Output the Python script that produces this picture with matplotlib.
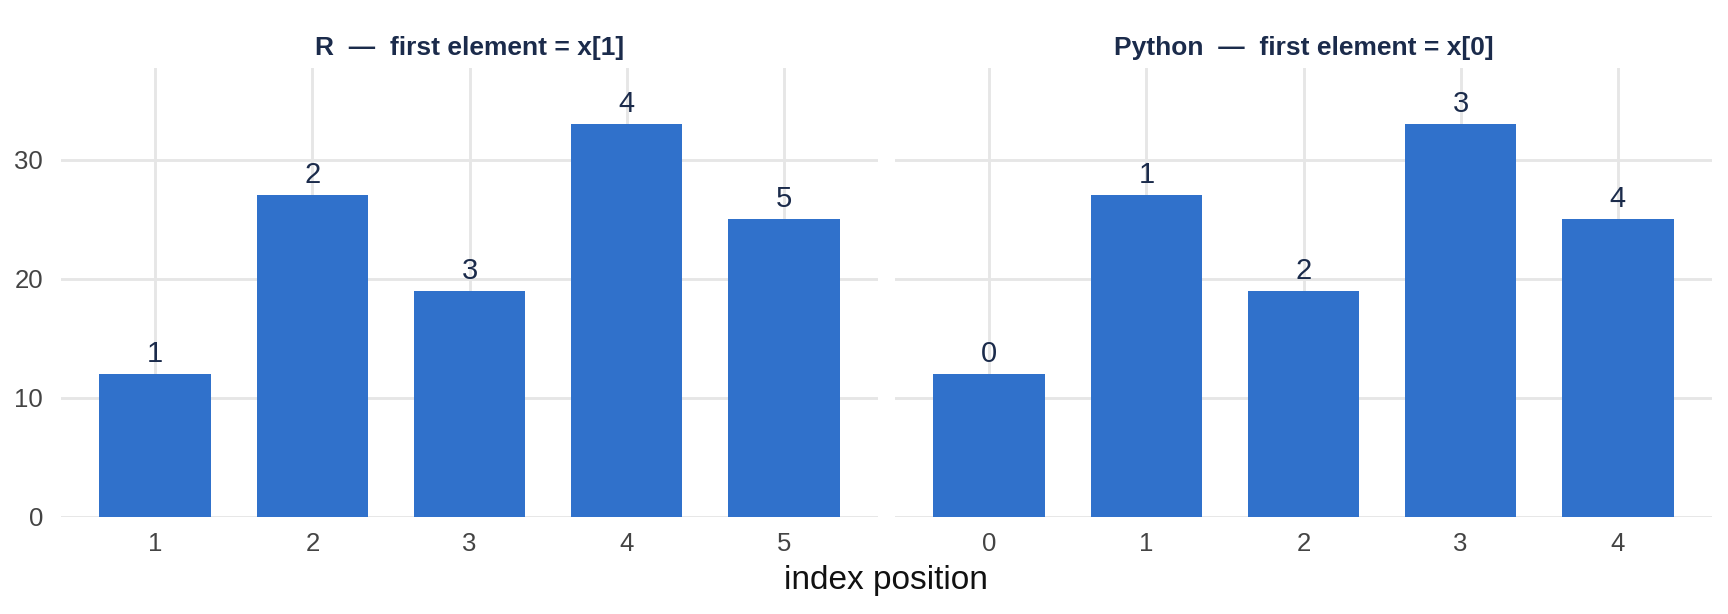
import matplotlib
matplotlib.use("Agg")
import matplotlib.pyplot as plt

plt.rcParams['font.family'] = ['Liberation Sans', 'DejaVu Sans']

values = [12, 27, 19, 33, 25]
r_labels = ["1", "2", "3", "4", "5"]
py_labels = ["0", "1", "2", "3", "4"]
titles = ["R  \u2014  first element = x[1]", "Python  \u2014  first element = x[0]"]

bar_color = "#3071CB"
navy = "#1B2B4B"
grid_color = "#E6E6E6"

W, H = 1728, 614
fig = plt.figure(figsize=(W / 100, H / 100), dpi=100)

panels = [(61, 878), (895, 1712)]
y_top, y_zero = 68, 517

for (x0, x1), labels, title in zip(panels, [r_labels, py_labels], titles):
    ax = fig.add_axes([x0 / W, (H - y_zero) / H, (x1 - x0) / W, (y_zero - y_top) / H])
    pos = list(range(len(values)))
    ax.bar(pos, values, width=0.71, color=bar_color, zorder=2)
    for p, v, lab in zip(pos, values, labels):
        ax.text(p, v + 0.5, lab, ha='center', va='bottom', fontsize=21, color=navy, zorder=3)
    ax.set_xlim(-0.6, len(values) - 0.4)
    ax.set_ylim(0, 37.7)
    ax.set_xticks(pos)
    ax.set_xticklabels(labels)
    ax.set_yticks([0, 10, 20, 30])
    if x0 > 100:
        ax.set_yticklabels([])
    ax.tick_params(length=0, labelsize=18.5, labelcolor="#444444")
    ax.tick_params(axis='x', pad=11)
    ax.tick_params(axis='y', pad=13)
    ax.grid(True, color=grid_color, linewidth=2.1)
    ax.set_axisbelow(True)
    for s in ax.spines.values():
        s.set_visible(False)
    ax.set_title(title, fontsize=19, fontweight='bold', color=navy, pad=9)

fig.text(886 / W, 1 - 580 / H, "index position", ha='center', va='center', fontsize=24, color="#111111")

fig.savefig("out.png", dpi=100)
